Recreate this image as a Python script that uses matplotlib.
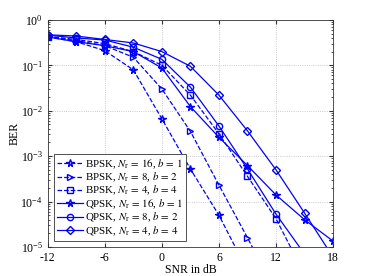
import numpy as np
import matplotlib.pyplot as plt
from matplotlib.ticker import LogLocator, NullFormatter

plt.rcParams['font.family'] = 'Liberation Serif'
plt.rcParams['mathtext.fontset'] = 'stix'
plt.rcParams['axes.unicode_minus'] = False

snr = [-12, -9, -6, -3, 0, 3, 6, 9, 12, 15, 18]

bpsk_b1 = [0.42, 0.33, 0.21, 0.079, 0.0066, 5.2e-4, 5e-5, 3e-6]
bpsk_b2 = [0.42, 0.35, 0.27, 0.15, 0.030, 3.5e-3, 2.3e-4, 1.6e-5, 1e-6]
bpsk_b4 = [0.43, 0.37, 0.30, 0.20, 0.10, 0.022, 3.1e-3, 3.6e-4, 4.2e-5, 2.5e-6]
qpsk_b1 = [0.42, 0.33, 0.27, 0.20, 0.087, 0.0123, 2.6e-3, 6.2e-4, 1.4e-4, 4e-5, 1.35e-5]
qpsk_b2 = [0.46, 0.40, 0.36, 0.25, 0.135, 0.033, 4.6e-3, 5.2e-4, 5.3e-5, 7e-6]
qpsk_b4 = [0.47, 0.44, 0.37, 0.31, 0.20, 0.095, 0.022, 3.6e-3, 5e-4, 5.6e-5, 6e-6]

series = [
    (bpsk_b1, '--', '*', r'BPSK, $N_\mathrm{r}\,=\,16$, $b\,=\,1$'),
    (bpsk_b2, '--', '>', r'BPSK, $N_\mathrm{r}\,=\,8$, $b\,=\,2$'),
    (bpsk_b4, '--', 's', r'BPSK, $N_\mathrm{r}\,=\,4$, $b\,=\,4$'),
    (qpsk_b1, '-', '*', r'QPSK, $N_\mathrm{r}\,=\,16$, $b\,=\,1$'),
    (qpsk_b2, '-', 'o', r'QPSK, $N_\mathrm{r}\,=\,8$, $b\,=\,2$'),
    (qpsk_b4, '-', 'D', r'QPSK, $N_\mathrm{r}\,=\,4$, $b\,=\,4$'),
]

fig = plt.figure(figsize=(3.68, 2.76), dpi=100)
ax = fig.add_axes([0.130, 0.105, 0.775, 0.823])

for vals, ls, mk, lab in series:
    ms = 5.5 if mk == '*' else (4.0 if mk == 'D' else 4.5)
    ax.semilogy(snr[:len(vals)], vals, color='#0000FF', linestyle=ls,
                marker=mk, markersize=ms, markerfacecolor='none',
                markeredgecolor='#0000FF', linewidth=0.9, label=lab)

ax.set_xlim(-12, 18)
ax.set_ylim(1e-5, 1)
ax.set_xticks([-12, -6, 0, 6, 12, 18])
ax.set_xticklabels(['-12', '-6', '0', '6', '12', '18'])
ax.yaxis.set_major_locator(LogLocator(base=10, numticks=10))
ax.yaxis.set_minor_locator(LogLocator(base=10, subs=np.arange(2, 10), numticks=10))
ax.yaxis.set_minor_formatter(NullFormatter())
ax.tick_params(which='both', direction='in', top=True, right=True,
               labelsize=8.5, color='#333333')
ax.tick_params(which='major', length=3)
ax.tick_params(which='minor', length=1.5)
ax.grid(True, which='major', linestyle=':', color='#bbbbbb', linewidth=0.6)
for s in ax.spines.values():
    s.set_color('#333333')
    s.set_linewidth(0.6)

ax.set_xlabel('SNR in dB', fontsize=8.5, labelpad=0)
ax.set_ylabel('BER', fontsize=8.5, labelpad=0)

leg = ax.legend(loc='lower left', fontsize=7.8, frameon=True, fancybox=False,
                edgecolor='#333333', framealpha=1, handlelength=2.4,
                labelspacing=0.0, borderpad=0.25, handletextpad=0.2,
                borderaxespad=0.6)
leg.get_frame().set_linewidth(0.6)

plt.savefig('out.png', dpi=100)
plt.close()
